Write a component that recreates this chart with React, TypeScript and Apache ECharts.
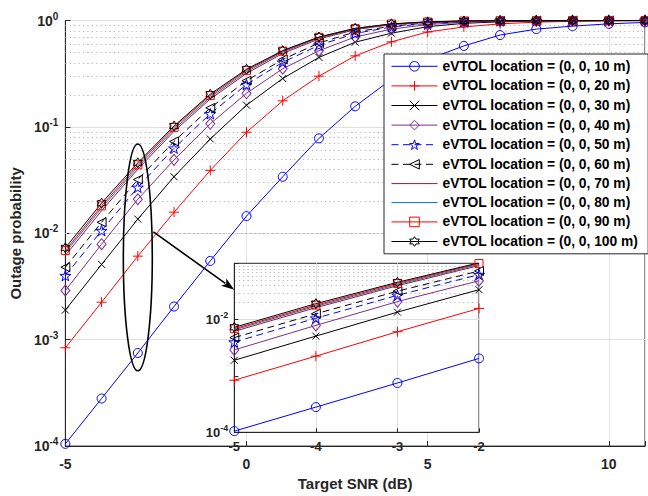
import React, { useEffect, useRef } from 'react';
import * as echarts from 'echarts';

// Target SNR grid (dB)
const snr = [-5, -4, -3, -2, -1, 0, 1, 2, 3, 4, 5, 6, 7, 8, 9, 10, 11];

// Outage probability per eVTOL altitude
const loc10 = [1.05e-4, 2.8e-4, 7.5e-4, 2.05e-3, 5.5e-3, 0.0145, 0.034, 0.078, 0.156, 0.28, 0.43, 0.577, 0.73, 0.83, 0.885, 0.93, 0.96];
const loc20 = [8.4e-4, 2.25e-3, 6.1e-3, 0.0158, 0.039, 0.089, 0.176, 0.3, 0.465, 0.63, 0.78, 0.87, 0.93, 0.965, 0.982, 0.991, 0.996];
const loc30 = [1.9e-3, 5.1e-3, 0.0136, 0.034, 0.077, 0.16, 0.285, 0.45, 0.625, 0.76, 0.875, 0.94, 0.972, 0.987, 0.994, 0.997, 0.999];
const loc40 = [2.9e-3, 7.9e-3, 0.0209, 0.049, 0.107, 0.207, 0.352, 0.52, 0.7, 0.83, 0.915, 0.962, 0.984, 0.994, 0.997, 0.999, 1.0];
const loc50 = [4.0e-3, 0.0106, 0.027, 0.063, 0.133, 0.25, 0.405, 0.585, 0.755, 0.87, 0.94, 0.975, 0.99, 0.996, 0.998, 0.999, 1.0];
const loc60 = [4.8e-3, 0.0127, 0.032, 0.073, 0.151, 0.272, 0.43, 0.615, 0.78, 0.885, 0.95, 0.98, 0.992, 0.997, 0.999, 1.0, 1.0];
const loc70 = [6.2e-3, 0.0163, 0.04, 0.091, 0.183, 0.318, 0.49, 0.67, 0.82, 0.915, 0.963, 0.986, 0.995, 0.998, 0.999, 1.0, 1.0];
const loc80 = [6.6e-3, 0.0173, 0.042, 0.095, 0.19, 0.33, 0.505, 0.685, 0.83, 0.922, 0.967, 0.988, 0.996, 0.998, 0.999, 1.0, 1.0];
const loc90 = [6.9e-3, 0.0181, 0.044, 0.099, 0.197, 0.34, 0.515, 0.695, 0.84, 0.927, 0.97, 0.989, 0.996, 0.999, 1.0, 1.0, 1.0];
const loc100 = [7.3e-3, 0.0192, 0.046, 0.102, 0.203, 0.348, 0.522, 0.7, 0.845, 0.93, 0.972, 0.99, 0.997, 0.999, 1.0, 1.0, 1.0];

const seriesNames = [
  'eVTOL location = (0, 0, 10 m)',
  'eVTOL location = (0, 0, 20 m)',
  'eVTOL location = (0, 0, 30 m)',
  'eVTOL location = (0, 0, 40 m)',
  'eVTOL location = (0, 0, 50 m)',
  'eVTOL location = (0, 0, 60 m)',
  'eVTOL location = (0, 0, 70 m)',
  'eVTOL location = (0, 0, 80 m)',
  'eVTOL location = (0, 0, 90 m)',
  'eVTOL location = (0, 0, 100 m)',
];
const seriesValues = [loc10, loc20, loc30, loc40, loc50, loc60, loc70, loc80, loc90, loc100];

// Zoomed-in window
const insetSnr = [-5, -4, -3, -2];
const insetLabelExponents = [-2, -4];

const FONT = "'Liberation Sans', Arial, Helvetica, sans-serif";
const AXIS_COLOR = '#262626';

function starPath(points: number, outer: number, inner: number): string {
  const pts: string[] = [];
  for (let i = 0; i < points * 2; i++) {
    const a = -Math.PI / 2 + (i * Math.PI) / points;
    const rad = i % 2 === 0 ? outer : inner;
    pts.push(`${(rad * Math.cos(a)).toFixed(3)} ${(rad * Math.sin(a)).toFixed(3)}`);
  }
  return 'path://M' + pts.join(' L') + ' Z';
}

const SYM_PLUS = 'path://M0 -5L0 5M-5 0L5 0';
const SYM_CROSS = 'path://M-5 -5L5 5M-5 5L5 -5';
const SYM_TRI_LEFT = 'path://M-5 0L5 -5L5 5Z';
const SYM_SQUARE = 'path://M-5 -5L5 -5L5 5L-5 5Z';
const SYM_PENTA = starPath(5, 5, 1.95);
const SYM_HEXA = starPath(6, 5, 2.887);

interface Look {
  color: string;
  symbol: string;
  size: number | number[];
  dashed?: boolean;
}

const looks: Look[] = [
  { color: '#0000FF', symbol: 'circle', size: 9 },
  { color: '#FF0000', symbol: SYM_PLUS, size: 10 },
  { color: '#000000', symbol: SYM_CROSS, size: 7 },
  { color: '#7E2F8E', symbol: 'diamond', size: [9, 11] },
  { color: '#0000FF', symbol: SYM_PENTA, size: 11, dashed: true },
  { color: '#000000', symbol: SYM_TRI_LEFT, size: 9, dashed: true },
  { color: '#A2142F', symbol: 'none', size: 0 },
  { color: '#0072BD', symbol: 'none', size: 0 },
  { color: '#FF0000', symbol: SYM_SQUARE, size: 8 },
  { color: '#000000', symbol: SYM_HEXA, size: 10 },
];

function decadeMinors(fromExp: number, toExp: number): number[] {
  const out: number[] = [];
  for (let e = fromExp; e < toExp; e++) {
    for (let k = 2; k <= 9; k++) out.push(k * Math.pow(10, e));
  }
  return out;
}

function powerLabel(v: number): string {
  const e = Math.round(Math.log10(v));
  return `{b|10}{s|${e}}`;
}

const powerRich = (size: number) => ({
  b: { fontSize: size, fontWeight: 'bold', fontFamily: FONT, color: AXIS_COLOR },
  s: { fontSize: Math.round(size * 0.72), fontWeight: 'bold', fontFamily: FONT, color: AXIS_COLOR, padding: [0, 0, 9, 0] },
});

export default function App() {
  const ref = useRef<HTMLDivElement>(null);

  useEffect(() => {
    if (!ref.current) return;
    const chart = echarts.init(ref.current, null, { renderer: 'svg' });

    const makeSeries = (idx: number, inset: boolean) => {
      const look = looks[idx];
      const xs = inset ? insetSnr : snr;
      const values = seriesValues[idx];
      return {
        type: 'line',
        name: seriesNames[idx],
        xAxisIndex: inset ? 1 : 0,
        yAxisIndex: inset ? 1 : 0,
        data: xs.map((x, i) => [x, values[i]]),
        symbol: look.symbol === 'none' ? 'none' : look.symbol,
        symbolSize: look.size,
        symbolKeepAspect: true,
        showSymbol: look.symbol !== 'none',
        lineStyle: { color: look.color, width: 1, type: look.dashed ? [7, 4.5] : 'solid' },
        itemStyle: look.symbol === 'none'
          ? { color: 'none', borderColor: 'none', borderWidth: 0 }
          : { color: 'none', borderColor: look.color, borderWidth: 1 },
        emphasis: { disabled: true },
        silent: true,
        z: inset ? 7 : 2,
      };
    };

    const mainMinor = decadeMinors(-4, 0);
    const insetMinor = decadeMinors(-4, -1).concat([1e-3]);

    const minorLine = (values: number[], inset: boolean, z: number) => ({
      type: 'line',
      xAxisIndex: inset ? 1 : 0,
      yAxisIndex: inset ? 1 : 0,
      data: [],
      silent: true,
      z,
      markLine: {
        silent: true,
        z,
        animation: false,
        symbol: ['none', 'none'],
        label: { show: false },
        emphasis: { disabled: true },
        lineStyle: { color: '#b8b8b8', width: 1, type: [1.2, 3.2] },
        data: values.map((v) => ({ yAxis: v })),
      },
    });

    const insetMajor = {
      type: 'line',
      xAxisIndex: 1,
      yAxisIndex: 1,
      data: [],
      silent: true,
      z: 6,
      markLine: {
        silent: true,
        z: 6,
        animation: false,
        symbol: ['none', 'none'],
        label: { show: false },
        emphasis: { disabled: true },
        lineStyle: { color: '#dedede', width: 1, type: 'solid' },
        data: insetLabelExponents.map((e) => ({ yAxis: Math.pow(10, e) })),
      },
    };

    const option: any = {
      animation: false,
      backgroundColor: '#ffffff',
      textStyle: { fontFamily: FONT },
      grid: [
        {
          left: 63.5, right: 1.5, top: 20.5, bottom: 40.7,
          show: true, borderColor: AXIS_COLOR, borderWidth: 1, backgroundColor: 'transparent',
        },
        {
          left: 234.3, top: 263.3, width: 244.7, height: 169,
          show: true, borderColor: AXIS_COLOR, borderWidth: 1, backgroundColor: '#ffffff', z: 5,
        },
      ],
      xAxis: [
        {
          type: 'value', gridIndex: 0, min: -5, max: 11, interval: 5,
          name: 'Target SNR (dB)', nameLocation: 'middle', nameGap: 22,
          nameTextStyle: { fontFamily: FONT, fontWeight: 'bold', fontSize: 15, color: AXIS_COLOR },
          axisLine: { onZero: false, lineStyle: { color: AXIS_COLOR, width: 1 } },
          axisTick: { inside: true, length: 5, lineStyle: { color: AXIS_COLOR } },
          axisLabel: {
            margin: 11, fontFamily: FONT, fontWeight: 'bold', fontSize: 14, color: AXIS_COLOR,
            formatter: (v: number) => (v === 11 ? '' : String(v)),
          },
          splitLine: { show: true, lineStyle: { color: '#e3e3e3', width: 1 } },
        },
        {
          type: 'value', gridIndex: 1, min: -5, max: -2, interval: 1, z: 6,
          axisLine: { onZero: false, lineStyle: { color: AXIS_COLOR, width: 1 } },
          axisTick: { inside: true, length: 4, lineStyle: { color: AXIS_COLOR } },
          axisLabel: { margin: 8, fontFamily: FONT, fontWeight: 'bold', fontSize: 13, color: AXIS_COLOR },
          splitLine: { show: true, lineStyle: { color: '#dedede', width: 1 } },
        },
      ],
      yAxis: [
        {
          type: 'log', gridIndex: 0, logBase: 10, min: 1e-4, max: 1,
          name: 'Outage probability', nameLocation: 'middle', nameGap: 34,
          nameTextStyle: { fontFamily: FONT, fontWeight: 'bold', fontSize: 15, color: AXIS_COLOR },
          axisLine: { show: true, onZero: false, lineStyle: { color: AXIS_COLOR, width: 1 } },
          axisTick: { inside: true, length: 5, lineStyle: { color: AXIS_COLOR } },
          axisLabel: { margin: 7, formatter: powerLabel, rich: powerRich(14) },
          splitLine: { show: true, lineStyle: { color: '#e0e0e0', width: 1 } },
        },
        {
          type: 'log', gridIndex: 1, logBase: 10, min: 1e-4, max: 1e-1, z: 6,
          axisLine: { show: true, onZero: false, lineStyle: { color: AXIS_COLOR, width: 1 } },
          axisTick: { inside: true, length: 4, lineStyle: { color: AXIS_COLOR } },
          axisLabel: {
            margin: 6,
            formatter: (v: number) => {
              const e = Math.round(Math.log10(v));
              return insetLabelExponents.includes(e) ? powerLabel(v) : '';
            },
            rich: powerRich(13),
          },
          splitLine: { show: false },
        },
      ],
      legend: {
        orient: 'vertical',
        left: 384,
        top: 54,
        data: seriesNames,
        itemWidth: 46,
        itemHeight: 12,
        itemGap: 5,
        padding: [5, 10, 5, 7],
        backgroundColor: '#ffffff',
        borderColor: AXIS_COLOR,
        borderWidth: 1,
        selectedMode: false,
        z: 8,
        lineStyle: { width: 1 },
        itemStyle: { borderWidth: 1 },
        textStyle: { fontFamily: FONT, fontWeight: 'bold', fontSize: 13.8, color: '#000000', lineHeight: 14 },
      },
      series: [
        minorLine(mainMinor, false, 1),
        ...seriesValues.map((_, i) => makeSeries(i, false)),
        minorLine(insetMinor, true, 6),
        insetMajor,
        ...seriesValues.map((_, i) => makeSeries(i, true)),
      ],
    };

    chart.setOption(option);

    // Ellipse around the -3 dB markers and an arrow pointing to the zoomed window
    const main = (x: number, y: number) => chart.convertToPixel({ gridIndex: 0 }, [x, y]) as number[];
    const zoomed = (x: number, y: number) => chart.convertToPixel({ gridIndex: 1 }, [x, y]) as number[];
    const eTop = main(-3, 0.069);
    const eBottom = main(-3, 5.1e-4);
    const eSide = main(-2.6, 0.0059);
    const cx = eTop[0];
    const cy = (eTop[1] + eBottom[1]) / 2;
    const rx = eSide[0] - cx;
    const ry = (eBottom[1] - eTop[1]) / 2;

    const start = main(-2.57, 0.0103);
    const tip = zoomed(-5, 0.034);
    const dx = tip[0] - start[0];
    const dy = tip[1] - start[1];
    const len = Math.hypot(dx, dy);
    const ux = dx / len;
    const uy = dy / len;
    const headLen = 13;
    const headHalf = 4.5;
    const bx = tip[0] - ux * headLen;
    const by = tip[1] - uy * headLen;

    chart.setOption({
      graphic: [
        {
          type: 'ellipse', z: 20, silent: true,
          shape: { cx, cy, rx, ry },
          style: { fill: 'none', stroke: '#000000', lineWidth: 1.6 },
        },
        {
          type: 'line', z: 20, silent: true,
          shape: { x1: start[0], y1: start[1], x2: bx + ux * 2, y2: by + uy * 2 },
          style: { stroke: '#000000', lineWidth: 1.6 },
        },
        {
          type: 'polygon', z: 20, silent: true,
          shape: {
            points: [
              [tip[0], tip[1]],
              [bx - uy * headHalf, by + ux * headHalf],
              [bx + ux * 3, by + uy * 3],
              [bx + uy * headHalf, by - ux * headHalf],
            ],
          },
          style: { fill: '#000000' },
        },
      ],
    });

    return () => chart.dispose();
  }, []);

  return <div ref={ref} style={{ position: 'fixed', left: 0, top: 0, width: 648, height: 496 }} />;
}
